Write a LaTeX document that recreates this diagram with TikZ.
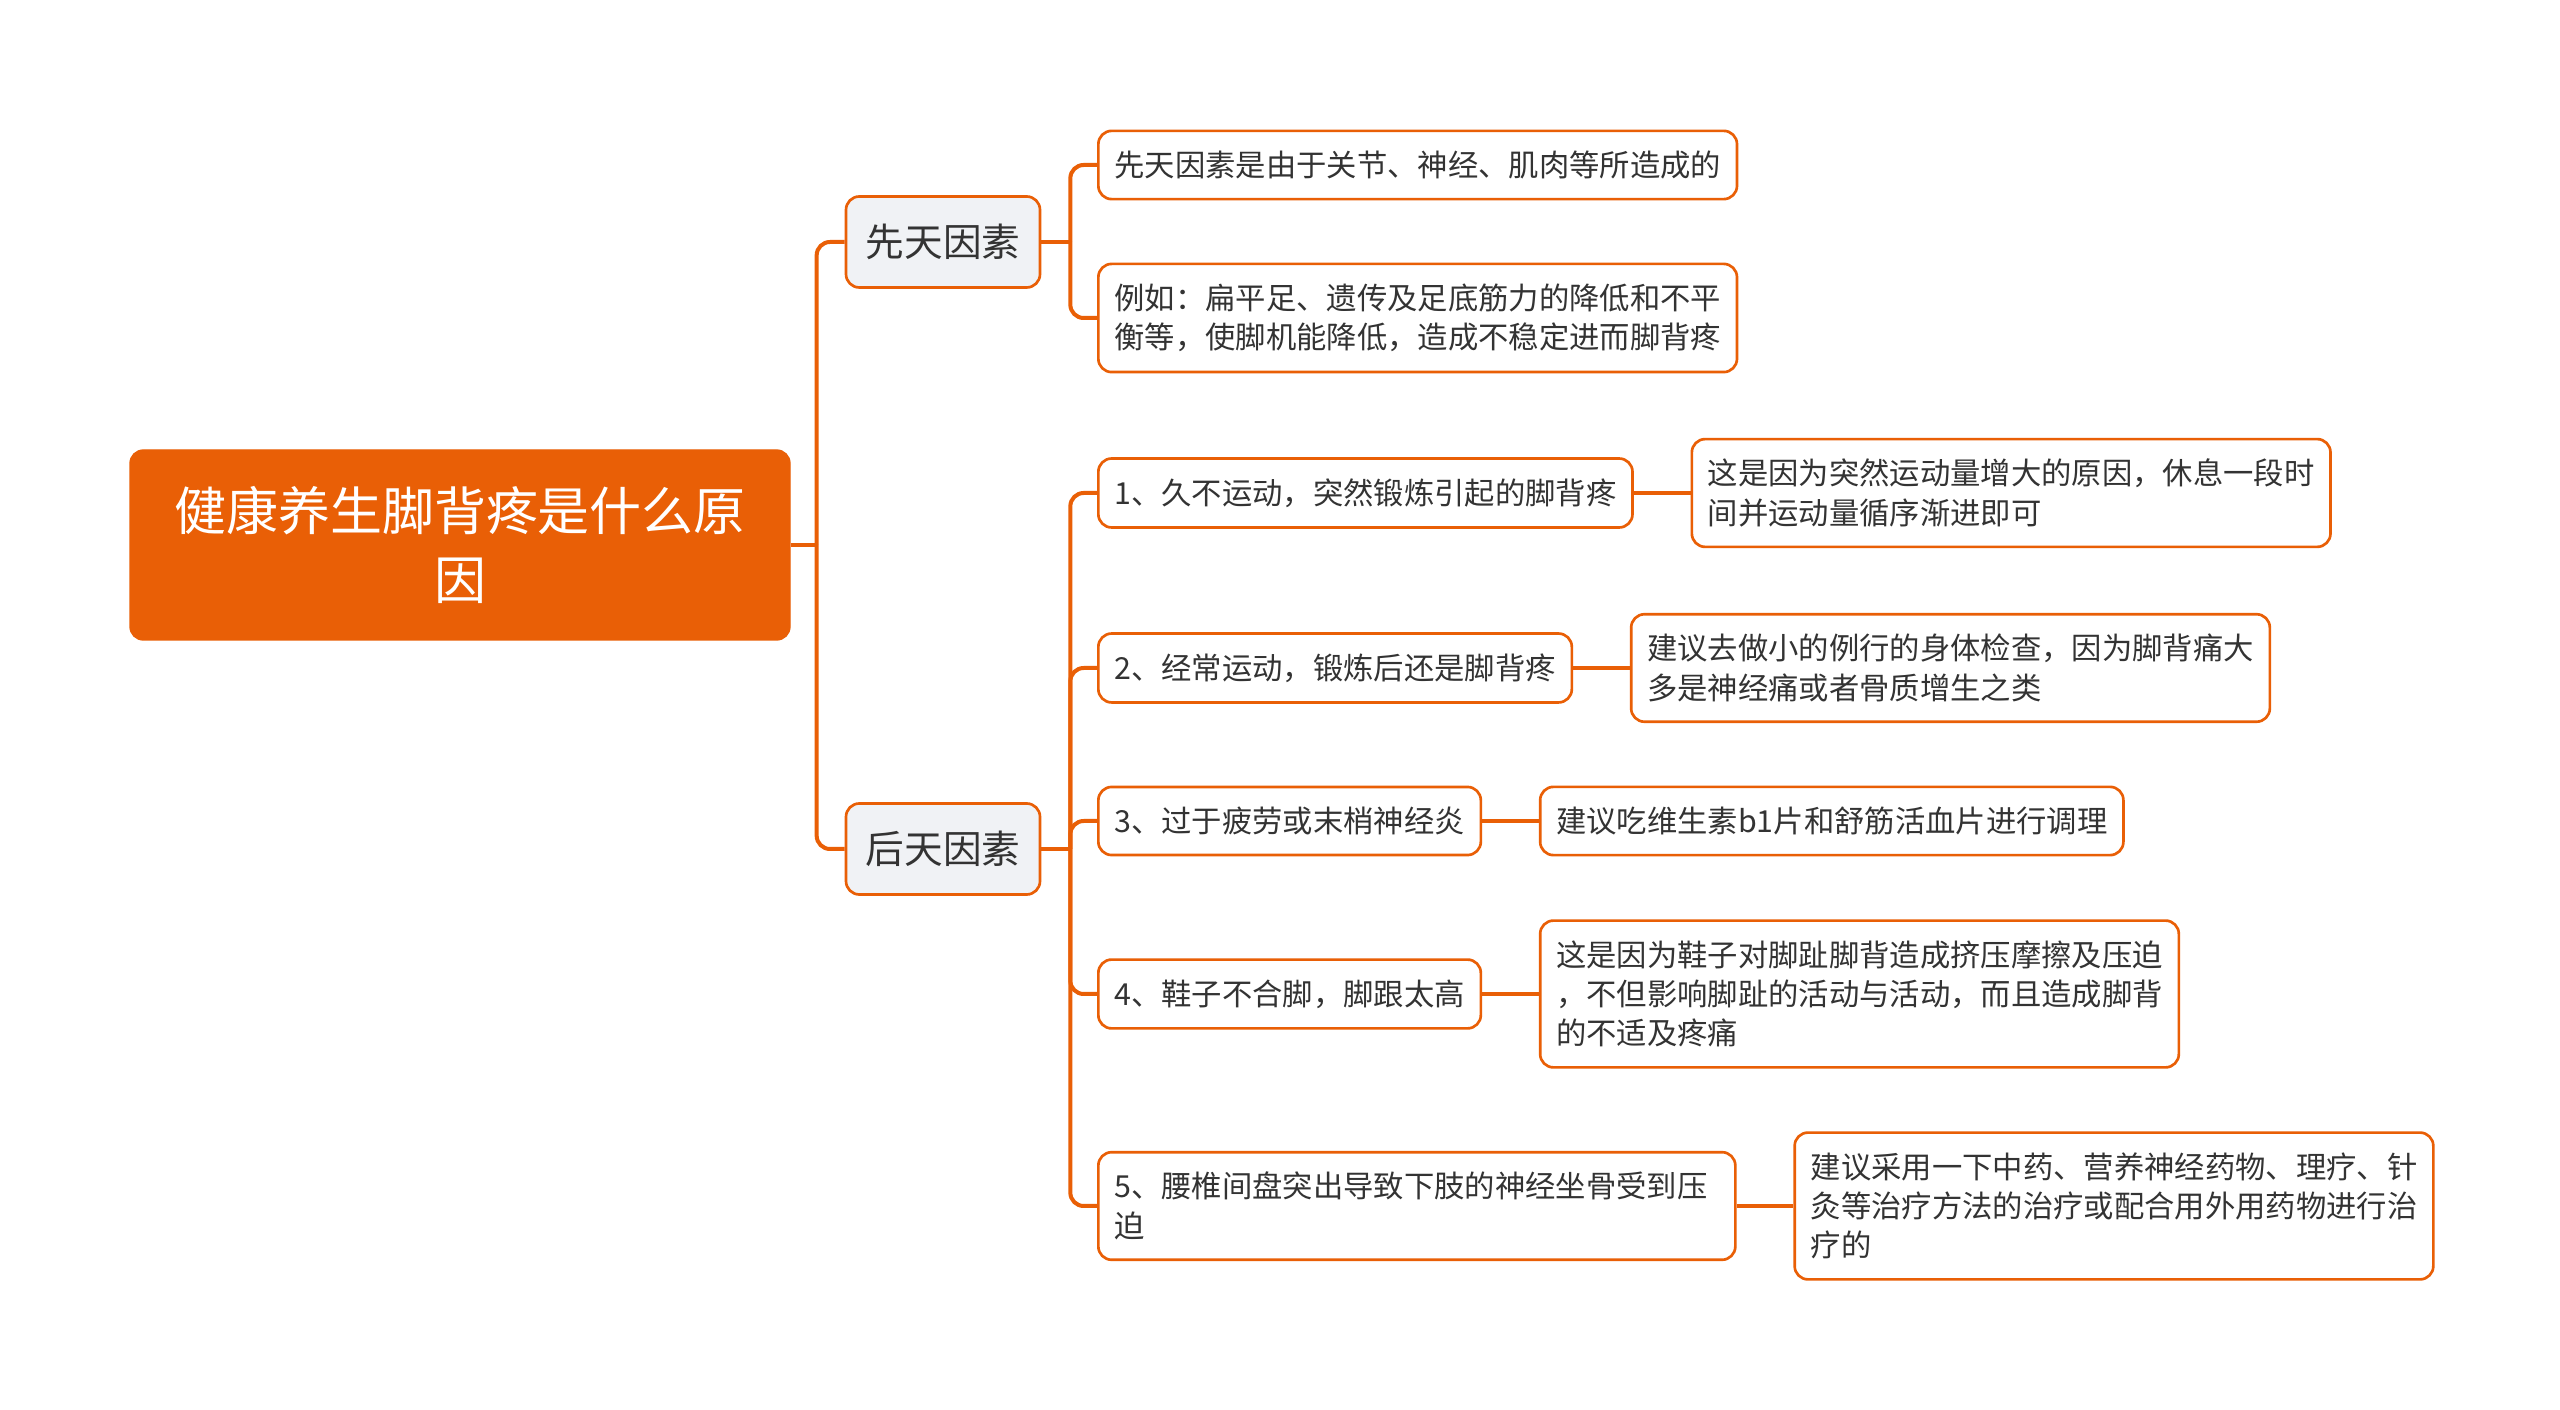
\documentclass[tikz,border=0pt]{standalone}
\usepackage{fontspec}
\setmainfont{Noto Sans CJK SC}
\usetikzlibrary{positioning}
\definecolor{naranja}{HTML}{E95F06}
\definecolor{gris}{HTML}{F0F2F5}
\definecolor{texto}{HTML}{333333}
\tikzset{
  raiz/.style={draw=naranja, fill=naranja, rounded corners=4pt, text=white,
    font=\fontsize{15.6}{20.6}\selectfont, align=center,
    minimum width=198pt, minimum height=57pt},
  rama/.style={draw=naranja, line width=0.8pt, fill=gris, rounded corners=4pt,
    text=texto, font=\fontsize{11.6}{14}\selectfont,
    minimum width=58.2pt, minimum height=27.3pt},
  hoja/.style={draw=naranja, line width=0.8pt, fill=white, rounded corners=4pt,
    text=texto, font=\fontsize{9.1}{11.8}\selectfont, align=left,
    inner xsep=4.8pt, inner ysep=6pt, minimum height=20.4pt},
  enlace/.style={draw=naranja, line width=1.2pt, rounded corners=4pt},
}
\begin{document}
\begin{tikzpicture}[x=0.3pt, y=-0.3pt]
    \fill[white] (0,0) rectangle (2560,1410);
    \useasboundingbox (0,0) rectangle (2560,1410);
    % Nodo central y ramas
    \node[raiz] (raiz) at (460,545) {健康养生脚背疼是什么原\\因};
    \node[rama] (k1) at (943,242) {先天因素};
    \node[rama] (k2) at (943,849) {后天因素};
    % Hojas de la primera rama
    \node[hoja, anchor=west] (a1) at (1097,165) {先天因素是由于关节、神经、肌肉等所造成的};
    \node[hoja, anchor=west] (a2) at (1097,318) {例如：扁平足、遗传及足底筋力的降低和不平\\衡等，使脚机能降低，造成不稳定进而脚背疼};
    % Hojas de la segunda rama
    \node[hoja, anchor=west] (b1) at (1097,493) {1、久不运动，突然锻炼引起的脚背疼};
    \node[hoja, anchor=west] (b2) at (1097,668) {2、经常运动，锻炼后还是脚背疼};
    \node[hoja, anchor=west] (b3) at (1097,821) {3、过于疲劳或末梢神经炎};
    \node[hoja, anchor=west] (b4) at (1097,994) {4、鞋子不合脚，脚跟太高};
    \node[hoja, anchor=west, text width=181.5pt] (b5) at (1097,1206) {5、腰椎间盘突出导致下肢的神经坐骨受到压\\迫};
    \node[hoja, right=17pt of b1] (b1d) {这是因为突然运动量增大的原因，休息一段时\\间并运动量循序渐进即可};
    \node[hoja, right=17pt of b2] (b2d) {建议去做小的例行的身体检查，因为脚背痛大\\多是神经痛或者骨质增生之类};
    \node[hoja, right=17pt of b3] (b3d) {建议吃维生素b1片和舒筋活血片进行调理};
    \node[hoja, right=17pt of b4] (b4d) {这是因为鞋子对脚趾脚背造成挤压摩擦及压迫\\，不但影响脚趾的活动与活动，而且造成脚背\\的不适及疼痛};
    \node[hoja, right=17pt of b5] (b5d) {建议采用一下中药、营养神经药物、理疗、针\\灸等治疗方法的治疗或配合用外用药物进行治\\疗的};
    % Conectores
    \coordinate (j0) at ([xshift=7.8pt]raiz.east);
    \coordinate (j1) at ([xshift=8.7pt]k1.east);
    \coordinate (j2) at ([xshift=8.7pt]k2.east);
    \draw[enlace] (raiz.east) -- (j0);
    \draw[enlace] (k1.east) -- (j1);
    \draw[enlace] (k2.east) -- (j2);
    \foreach \n in {k1,k2}
        \draw[enlace] (j0) |- (\n.west);
    \foreach \n in {a1,a2}
        \draw[enlace] (j1) |- (\n.west);
    \foreach \n in {b1,b2,b3,b4,b5} {
        \draw[enlace] (j2) |- (\n.west);
        \draw[enlace] (\n) -- (\n d);
    }
\end{tikzpicture}
\end{document}
